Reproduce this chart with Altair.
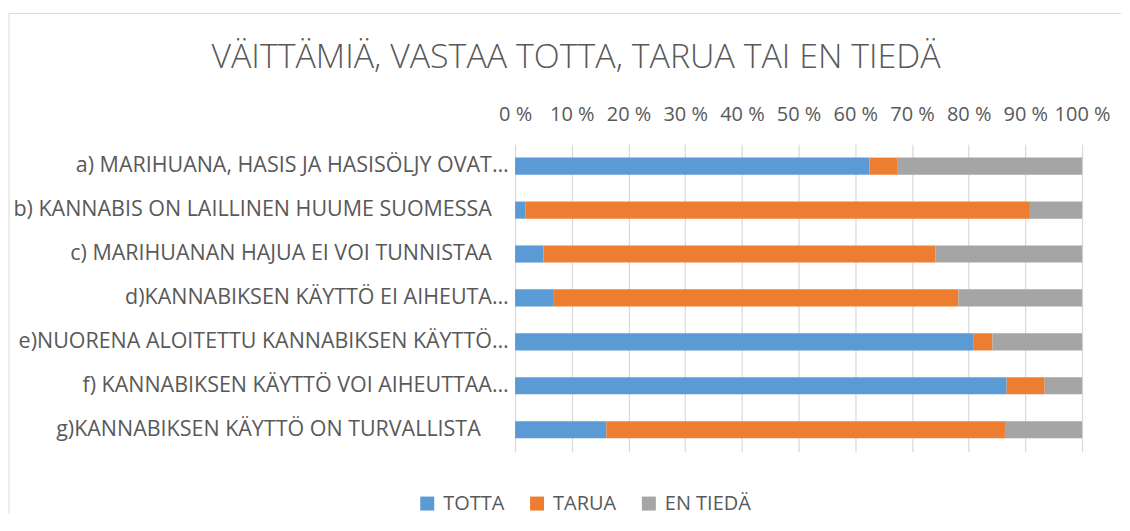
import altair as alt
import pandas as pd

NB = "\u00a0"
ZW = "\u200b"
categories = [
    "a) MARIHUANA, HASIS JA HASISÖLJY OVAT…",
    "b) KANNABIS ON LAILLINEN HUUME SUOMESSA" + NB * 3 + ZW,
    "c) MARIHUANAN HAJUA EI VOI TUNNISTAA" + NB * 3 + ZW,
    "d)KANNABIKSEN KÄYTTÖ EI AIHEUTA…",
    "e)NUORENA ALOITETTU KANNABIKSEN KÄYTTÖ…",
    "f) KANNABIKSEN KÄYTTÖ VOI AIHEUTTAA…",
    "g)KANNABIKSEN KÄYTTÖ ON TURVALLISTA" + NB * 5 + ZW,
]
series = ["TOTTA", "TARUA", "EN TIEDÄ"]
colors = ["#5B9BD5", "#ED7D31", "#A5A5A5"]
totta = [62.5, 1.8, 5.0, 6.7, 80.9, 86.7, 16.1]
tarua = [5.0, 89.0, 69.1, 71.5, 3.3, 6.7, 70.3]
en_tieda = [32.5, 9.2, 25.9, 21.8, 15.8, 6.6, 13.6]
tick_values = [0, 10, 20, 30, 40, 50, 60, 70, 80, 90, 100]
title_text = "VÄITTÄMIÄ, VASTAA TOTTA, TARUA TAI EN TIEDÄ"

rows = []
for i, cat in enumerate(categories):
    for j, (s, vals) in enumerate(zip(series, [totta, tarua, en_tieda])):
        rows.append({"kategoria": cat, "sarja": s, "arvo": vals[i], "jarjestys": j})
df = pd.DataFrame(rows)

TXT = "#595959"
FONT = "Open Sans"

bars = alt.Chart(df).mark_bar().encode(
    y=alt.Y(
        "kategoria:N",
        sort=categories,
        scale=alt.Scale(paddingInner=0.61, paddingOuter=0.305),
        axis=alt.Axis(
            title=None, domain=False, ticks=False, labelPadding=7,
            labelFontSize=21.5, labelColor=TXT, labelFont=FONT, labelLimit=1000,
        ),
    ),
    x=alt.X(
        "arvo:Q",
        stack="zero",
        scale=alt.Scale(domain=[0, 100], nice=False),
        axis=alt.Axis(
            orient="top", title=None, values=tick_values, domain=False, ticks=False,
            labelExpr="datum.value + ' %'", labelFontSize=20, labelColor=TXT,
            labelFont=FONT, labelPadding=20, labelOverlap=False, labelFlush=False,
            grid=True, gridColor="#D9D9D9", gridWidth=1.2,
        ),
    ),
    color=alt.Color(
        "sarja:N",
        scale=alt.Scale(domain=series, range=colors),
        legend=alt.Legend(
            title=None, orient="none", legendX=-98, legendY=350, direction="horizontal",
            symbolType="square", symbolSize=196, symbolStrokeWidth=0,
            labelFontSize=20, labelColor=TXT, labelFont=FONT, labelOffset=6,
            columnPadding=22,
        ),
    ),
    order=alt.Order("jarjestys:Q"),
)

frame_df = pd.DataFrame({"otsikko": [title_text]})
left_line = alt.Chart(frame_df).mark_rule(color="#D9D9D9", strokeWidth=1).encode(
    x=alt.value(-507), y=alt.value(-131), y2=alt.value(370)
)
top_line = alt.Chart(frame_df).mark_rule(color="#D9D9D9", strokeWidth=1).encode(
    x=alt.value(-507), x2=alt.value(607), y=alt.value(-131)
)
title_mark = alt.Chart(frame_df).mark_text(
    font=FONT, fontSize=34, fontWeight=300, color=TXT, align="center",
    baseline="alphabetic",
).encode(text="otsikko:N", x=alt.value(61), y=alt.value(-76))

chart = alt.layer(bars, left_line, top_line, title_mark).properties(
    width=568,
    height=308,
    padding={"left": 0, "top": 4, "right": 0, "bottom": 0},
).configure_view(stroke=None)

chart.save("out.html", embed_options={"renderer": "svg", "actions": False})
